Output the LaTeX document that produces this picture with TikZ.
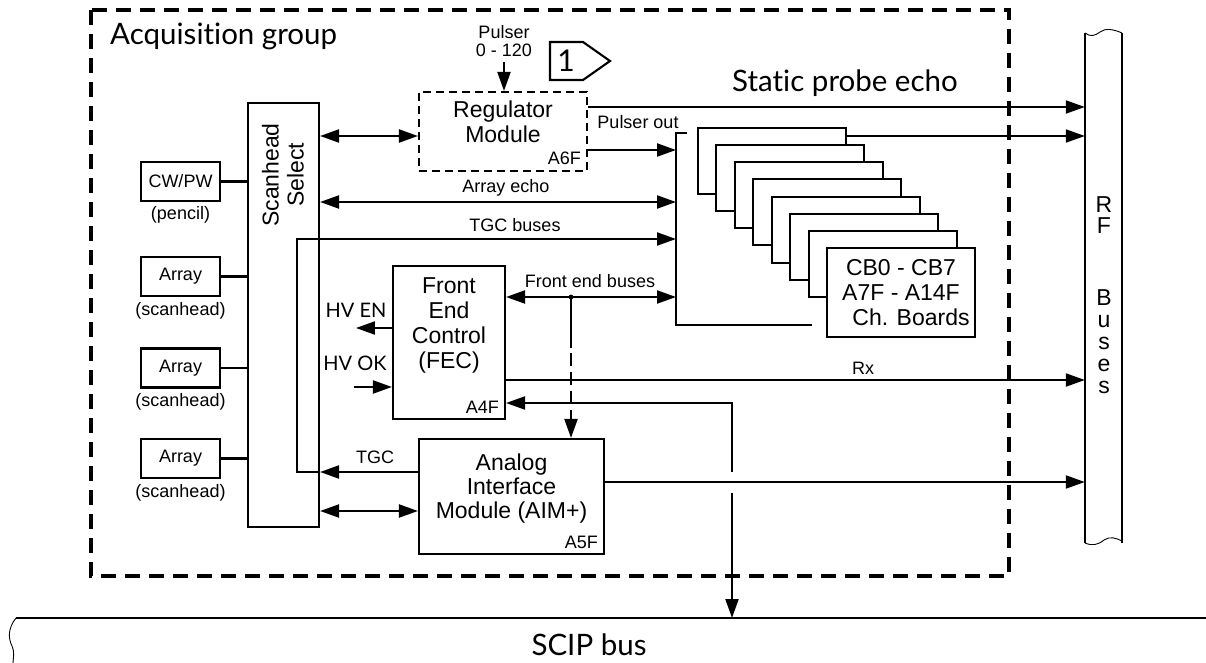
\documentclass[tikz,border=0pt]{standalone}
\usepackage{fontspec}
\setmainfont{Liberation Sans}
\newfontfamily\fru{Lato}[Ligatures=NoCommon]
\usetikzlibrary{arrows.meta,positioning}
\tikzset{
  ln/.style={line width=2.1pt},
  sg/.style={ln,-{Triangle[length=19pt,width=13pt]}},
  bs/.style={ln,{Triangle[length=19pt,width=13pt]}-{Triangle[length=19pt,width=13pt]}},
  blk/.style={draw,ln,rectangle,inner sep=0pt,font=\fontsize{18}{20}\selectfont},
  grp/.style={line width=3.2pt,dash pattern=on 15pt off 9pt},
  dbox/.style={blk,dash pattern=on 8pt off 5pt},
  sm/.style={font=\fontsize{18}{18}\selectfont,inner sep=0pt,align=center},
  md/.style={font=\fontsize{23}{25}\selectfont,inner sep=0pt,align=center},
  hv/.style={font=\fru\fontsize{20}{20}\selectfont,inner sep=0pt},
  bg/.style={font=\fru\fontsize{29.5}{30}\selectfont,inner sep=0pt},
  wv/.style={line width=0.9pt}
}
\newcommand{\pcb}[2]{\draw[ln,fill=white] (#1,#2) rectangle ++(148,66);}

\begin{document}
\begin{tikzpicture}[x=1pt,y=-1pt]
\useasboundingbox (0,0) rectangle (1206,663);
\draw[grp] (91,10) rectangle (1009,576);
\node[bg,anchor=base west] (acq) at (110,45) {Acquisition group};
\node[bg,anchor=base west] (spe) at (732,92) {Static probe echo};
\coordinate (yso) at (0,107); \coordinate (ysr) at (0,136); \coordinate (ypo) at (0,150);
\coordinate (yae) at (0,202); \coordinate (ytb) at (0,239); \coordinate (yfe) at (0,297);
\coordinate (yen) at (0,328); \coordinate (yrx) at (0,380); \coordinate (yok) at (0,387);
\coordinate (ya4) at (0,403); \coordinate (ytg) at (0,472); \coordinate (yao) at (0,482);
\coordinate (yai) at (0,511);
% rf buses
\node[minimum width=37pt,minimum height=510pt,inner sep=0pt] (rf) at (1103.5,288) {};
\draw[ln] (rf.north west) -- (rf.south west) (rf.north east) -- (rf.south east);
\draw[wv] (1085,33) .. controls (1090,37) and (1095,36) .. (1100,32) .. controls (1105,28) and (1113,29) .. (1122,33);
\draw[wv] (1085,543) .. controls (1092,546) and (1098,545) .. (1104,540) .. controls (1110,536) and (1116,538) .. (1122,541);
\node[md,font=\fontsize{23}{21}\selectfont] (rft) at (1104,215) {R\\F};
\node[md,font=\fontsize{23}{22}\selectfont] (bst) at (1104,342) {B\\u\\s\\e\\s};
% pulser / regulator
\node[sm] (pls) at (504,41) {Pulser\\0 - 120};
\node[dbox,minimum width=168pt,minimum height=79pt] (rg) at (503,131.5) {};
\node[md] (rgt) at (503,122) {Regulator\\Module};
\node[sm,anchor=south east] (a6f) at ([xshift=-7pt,yshift=7pt]rg.south east) {A6F};
\draw[sg] ([yshift=-5pt]pls.south) -- (pls.south |- rg.north);
\draw[ln] (550,42) -- (583,42) -- (610,61) -- (583,80) -- (550,80) -- cycle;
\node[font=\fru\fontsize{30}{30}\selectfont,inner sep=0pt] (one) at (566,61) {1};
% channel boards
\coordinate (bt) at (676,133); \coordinate (bb) at (676,325);
\draw[ln] (687,133) -- (bt) -- (bb) -- (812,325);
\foreach \i in {0,...,6} {\pcb{698+18.43*\i}{128+17.14*\i}}
\node[blk,fill=white,minimum width=148pt,minimum height=89pt,md] (cb) at (901,292.5)
  {CB0 - CB7\\A7F - A14F\\\hspace*{20pt}Ch. Boards};
\coordinate (cbr) at (846,136);
\draw[sg] (rg.east |- yso) -- (rf.west |- yso);
\draw[sg] (cbr) -- (rf.west |- cbr);
\draw[sg] (rg.east |- ypo) -- (bt |- ypo);
\node[sm] (pout) at (638,122) {Pulser out};
% scanheads
\node[blk,minimum width=71pt,minimum height=424pt] (sc) at (283.5,315) {};
\node[md,rotate=90] (sct) at (283,175) {Scanhead\\Select};
\node[blk,minimum width=79pt,minimum height=39pt] (cw) at (180.5,181.5) {CW/PW};
\node[sm,below=4pt of cw] (pen) {(pencil)};
\node[blk,minimum width=79pt,minimum height=39pt] (a1) at (180.5,276.5) {Array};
\node[sm,below=5pt of a1] (s1) {(scanhead)};
\node[blk,minimum width=79pt,minimum height=39pt] (a2) at (180.5,368) {Array};
\node[sm,below=5pt of a2] (s2) {(scanhead)};
\node[blk,minimum width=79pt,minimum height=39pt] (a3) at (180.5,458.5) {Array};
\node[sm,below=5pt of a3] (s3) {(scanhead)};
\foreach \b in {cw,a1,a2,a3} \draw[ln] (\b) -- (\b -| sc.west);
\draw[bs] (sc.east |- ysr) -- (rg.west |- ysr);
\draw[bs] (sc.east |- yae) -- (bt |- yae);
\node[sm] (aet) at (506,188) {Array echo};
\draw[sg] (sc.east |- ytg) -- ++(-23,0) |- (bt |- ytb);
\node[sm] (tbt) at (515,225) {TGC buses};
% front end control
\node[blk,minimum width=112pt,minimum height=153pt] (fec) at (449,342.5) {};
\node[md] (fect) at (449,325) {Front\\End\\Control\\(FEC)};
\node[sm,anchor=south east] (a4f) at ([xshift=-7pt,yshift=6pt]fec.south east) {A4F};
\draw[sg] (fec.west |- yen) -- ++(-36,0);
\node[hv] (hven) at (356,310) {HV EN};
\draw[sg] (fec.west |- yok) ++(-38,0) -- (fec.west |- yok);
\node[hv] (hvok) at (355,363) {HV OK};
\draw[bs] (fec.east |- yfe) -- (bt |- yfe);
\node[sm] (febt) at (590,281) {Front end buses};
\draw[sg] (fec.east |- yrx) -- (rf.west |- yrx);
\node[sm] (rx) at (863,368) {Rx};
% analog interface
\node[blk,minimum width=185pt,minimum height=115pt] (aim) at (511.5,496.5) {};
\node[md,font=\fontsize{23}{24}\selectfont] (aimt) at (511.5,489) {Analog\\Interface\\Module (AIM+)};
\node[sm,anchor=south east] (a5f) at ([xshift=-7pt,yshift=6pt]aim.south east) {A5F};
\coordinate (jn) at (571,297);
\fill (jn) circle (2.4pt);
\draw[sg,dash pattern=on 51pt off 5pt on 13pt off 6pt on 13pt off 6pt on 13pt off 6pt on 40pt] (jn) -- (jn |- aim.north);
\draw[sg] (aim.west |- ytg) -- (sc.east |- ytg);
\node[sm] (tgct) at (375,457) {TGC};
\draw[bs] (sc.east |- yai) -- (aim.west |- yai);
\draw[sg] (aim.east |- yao) -- (rf.west |- yao);
% scip bus
\coordinate (scl) at (16,618);
\coordinate (hpa) at (732,472); \coordinate (hpb) at (732,493);
\draw[sg] (hpa) |- (fec.east |- ya4);
\draw[sg] (hpb) -- (hpb |- scl);
\draw[ln] (scl) -- (1206,618);
\draw[wv] (scl) .. controls (8,628) and (8,638) .. (12,646) .. controls (15,653) and (13,659) .. (13,663);
\node[bg] (scip) at (589,645) {SCIP bus};
\end{tikzpicture}
\end{document}
